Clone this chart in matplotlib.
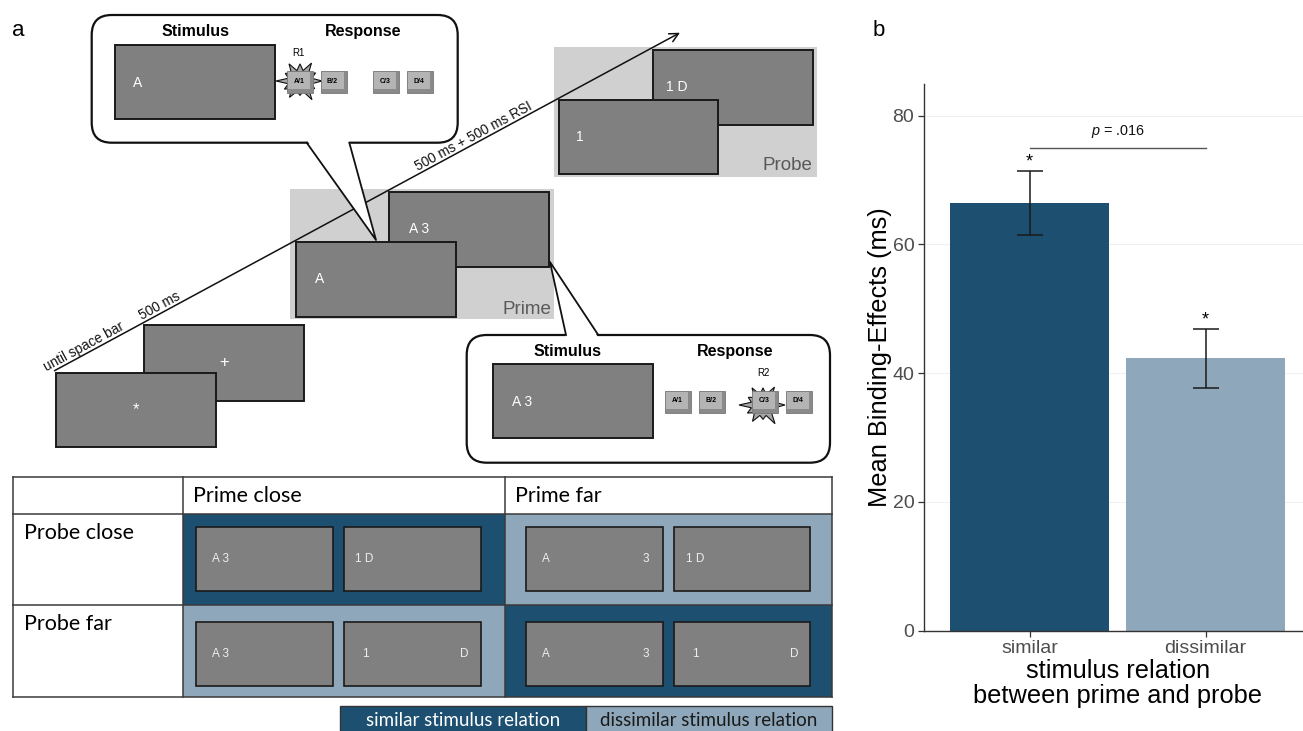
import numpy as np
import matplotlib
matplotlib.use('Agg')
import matplotlib.pyplot as plt
from matplotlib.patches import Rectangle, FancyBboxPatch, Polygon

plt.rcParams['font.family'] = ['Liberation Sans', 'DejaVu Sans']
plt.rcParams['mathtext.fontset'] = 'custom'
plt.rcParams['mathtext.it'] = 'Liberation Sans:italic'
plt.rcParams['mathtext.rm'] = 'Liberation Sans'

# ---- panel b data ----
relations = ['similar', 'dissimilar']
binding_means = [66.4, 42.3]
binding_errs = [5.0, 4.6]
p_value = '.016'
y_ticks = [0, 20, 40, 60, 80]

# ---- panel a texts ----
key_labels = ['A/1', 'B/2', 'C/3', 'D/4']
timeline_labels = ['until space bar', '500 ms', '500 ms + 500 ms RSI']
prime_labels = ['Prime close', 'Prime far']
probe_labels = ['Probe close', 'Probe far']
legend_labels = ['similar stimulus relation', 'dissimilar stimulus relation']
# which relation each prime/probe cell shows (rows = probe, cols = prime)
cell_relation = [['similar', 'dissimilar'],
                 ['dissimilar', 'similar']]

DARK = '#1d4f71'
LIGHT = '#8ea7ba'
rel_color = {'similar': DARK, 'dissimilar': LIGHT}
SCREEN = '#808080'
EDGE = '#1a1a1a'
TABLE_FONT = ['Lato', 'DejaVu Sans']

fig = plt.figure(figsize=(13.03, 7.31), dpi=100)
ax = fig.add_axes([0, 0, 1, 1])
ax.set_xlim(0, 1303)
ax.set_ylim(731, 0)
ax.axis('off')


def screen(x0, y0, x1, y1, z=3, lw=1.4):
    ax.add_patch(Rectangle((x0, y0), x1 - x0, y1 - y0, fc=SCREEN, ec=EDGE, lw=lw, zorder=z))


def stext(x, y, s, size=10, z=4, ha='left', **kw):
    ax.text(x, y, s, color='white', fontsize=size, ha=ha, va='center', zorder=z, **kw)


def key(x0, y0, label, z=7):
    w, h = 26, 22
    ax.add_patch(Rectangle((x0, y0), w, h, fc='#8a8a8a', ec='#777777', lw=0.6, zorder=z))
    ax.add_patch(Rectangle((x0 + 1.2, y0 + 1.2), w - 4, h - 4.5, fc='#b4b4b4', ec='none', zorder=z))
    ax.text(x0 + w / 2 - 1, y0 + h / 2 - 0.5, label, fontsize=5, fontweight='bold',
            ha='center', va='center', zorder=z + 1)


def burst(cx, cy, z=6):
    r_out = [22, 17, 24, 16, 21, 18, 24, 17, 22, 19, 23, 18]
    n = len(r_out)
    pts = []
    for i, r in enumerate(r_out):
        a = 2 * np.pi * i / n
        pts.append((cx + r * np.cos(a), cy + 0.9 * r * np.sin(a)))
        a2 = a + np.pi / n
        pts.append((cx + 12 * np.cos(a2), cy + 0.9 * 12 * np.sin(a2)))
    ax.add_patch(Polygon(pts, closed=True, fc='#a6a6a6', ec='#111111', lw=0.8, zorder=z))


def callout(x0, y0, x1, y1, bx0, bx1, by, inner, tip, z=5):
    ax.add_patch(FancyBboxPatch((x0, y0), x1 - x0, y1 - y0,
                                boxstyle='round,pad=0,rounding_size=20',
                                fc='white', ec='#111111', lw=1.6, zorder=z))
    ax.add_patch(Polygon([(bx0, inner), (bx1, inner), tip], closed=True,
                         fc='white', ec='none', zorder=z + 0.1))
    ax.plot([bx0, tip[0], bx1], [by, tip[1], by], color='#111111', lw=1.3, zorder=z + 0.2)


# ---- timeline ----
x_start, y_start = 54.5, 370.7
x_end, y_end = 680, 32.7
ax.annotate('', xy=(x_end, y_end), xytext=(x_start, y_start),
            arrowprops=dict(arrowstyle='->', color='#111111', lw=1.1, shrinkA=0, shrinkB=0,
                            mutation_scale=16), zorder=2)
slope = (y_end - y_start) / (x_end - x_start)
ang = np.degrees(np.arctan(-slope))
nrm = np.array([np.sin(np.radians(ang)), np.cos(np.radians(ang))])
for lab, cx in zip(timeline_labels, [87, 163, 477]):
    ly = y_start + slope * (cx - x_start)
    ax.text(cx - 3 * nrm[0], ly - 3 * nrm[1], lab, fontsize=9.8, rotation=ang,
            rotation_mode='anchor', ha='center', va='baseline', color='#111111', zorder=2)

# fixation screens
screen(144, 325, 304, 401)
screen(55.5, 372.7, 215.5, 446.7, z=3.5)
stext(224, 362.7, '+', size=12, ha='center', z=4)
stext(135.8, 410, '*', size=12, ha='center', z=4)

# prime
ax.add_patch(Rectangle((289.7, 189.3), 264, 130, fc='#d0d0d0', ec='none', zorder=1))
screen(389.2, 192.3, 548.7, 266.7)
screen(296, 242.3, 455.8, 316.7, z=3.5)
stext(408.8, 229.3, 'A 3', z=4)
stext(315, 279.3, 'A', z=4)
ax.text(551, 309, 'Prime', fontsize=13.5, color='#595959', ha='right', va='center', zorder=4)

# probe
ax.add_patch(Rectangle((554, 47.3), 262.7, 129.4, fc='#d0d0d0', ec='none', zorder=1))
screen(653.3, 50, 812.7, 125)
screen(559.3, 100, 718.3, 174.3, z=3.5)
stext(666, 87.3, '1 D', z=4)
stext(576, 136.7, '1', z=4)
ax.text(812, 166, 'Probe', fontsize=13.5, color='#595959', ha='right', va='center', zorder=4)

# top callout (prime response R1)
callout(91.7, 15, 457.7, 142.7, 306.7, 349.3, 142.7, 140, (376, 240))
ax.text(196, 31.7, 'Stimulus', fontsize=11.5, fontweight='bold', ha='center', va='center', zorder=7)
ax.text(363, 31.7, 'Response', fontsize=11.5, fontweight='bold', ha='center', va='center', zorder=7)
screen(115, 45, 275, 119.3, z=6)
stext(133.3, 82.7, 'A', z=7)
ax.text(298.3, 53.3, 'R1', fontsize=7, ha='center', va='center', zorder=7)
burst(300, 81)
for lab, kx in zip(key_labels, [287, 320.5, 373, 407]):
    key(kx, 70.7, lab)

# bottom callout (prime response R2)
callout(466.7, 335, 830, 462.7, 566, 598.3, 335, 337.5, (550, 262))
ax.text(568, 351.7, 'Stimulus', fontsize=11.5, fontweight='bold', ha='center', va='center', zorder=7)
ax.text(735, 351.7, 'Response', fontsize=11.5, fontweight='bold', ha='center', va='center', zorder=7)
screen(493, 364, 652.7, 438, z=6)
stext(511.7, 401.7, 'A 3', z=7)
ax.text(763.3, 373.3, 'R2', fontsize=7, ha='center', va='center', zorder=7)
burst(763, 405)
for lab, kx in zip(key_labels, [665, 699, 752, 786]):
    key(kx, 390.5, lab, z=7 if lab != 'C/3' else 7.5)

# ---- table of conditions ----
tx = [13.3, 182.7, 505, 831.7]
ty = [477.3, 514, 605, 696.7]
for r in range(2):
    for c in range(2):
        ax.add_patch(Rectangle((tx[c + 1], ty[r + 1]), tx[c + 2] - tx[c + 1], ty[r + 2] - ty[r + 1],
                               fc=rel_color[cell_relation[r][c]], ec='none', zorder=1))
for yy in ty:
    ax.plot([tx[0], tx[-1]], [yy, yy], color='#3a3a3a', lw=1.1, zorder=2)
for xx in tx:
    ax.plot([xx, xx], [ty[0], ty[-1]], color='#3a3a3a', lw=1.1, zorder=2)
for lab, c in zip(prime_labels, range(2)):
    ax.text(tx[c + 1] + 10, 496.5, lab, fontsize=15.5, family=TABLE_FONT, ha='left', va='center', zorder=3)
for lab, r in zip(probe_labels, range(2)):
    ax.text(24, ty[r + 1] + 19, lab, fontsize=15.5, family=TABLE_FONT, ha='left', va='center', zorder=3)

col_screens = [(196, 332.7), (344.3, 481), (526, 662.7), (674, 810)]
row_screens = [(527.3, 591), (621.7, 685.7)]
for (y0, y1) in row_screens:
    for (x0, x1) in col_screens:
        screen(x0, y0, x1, y1, z=3, lw=1.2)
# screen texts: (text, x) per row
cell_texts = [
    [('A 3', 212.3), ('1 D', 355), ('A', 542.3), ('3', 642.7), ('1 D', 685.7)],
    [('A 3', 212.3), ('1', 362.3), ('D', 460), ('A', 542.3), ('3', 642.7), ('1', 692.3), ('D', 790)],
]
for (y0, y1), texts in zip(row_screens, cell_texts):
    for s, xx in texts:
        ax.text(xx, (y0 + y1) / 2, s, color='#eeeeee', fontsize=8.5, ha='left', va='center', zorder=4)

# legend strip
lx = [340, 586, 831.7]
for i, lab in enumerate(legend_labels):
    ax.add_patch(Rectangle((lx[i], 706), lx[i + 1] - lx[i], 40, fc=[DARK, LIGHT][i],
                           ec='#333333', lw=1, zorder=2))
    ax.text((lx[i] + lx[i + 1]) / 2, 721, lab, fontsize=13.5, family=TABLE_FONT,
            color=['white', '#1a1a1a'][i], ha='center', va='center', zorder=3)

fig.text(18 / 1303, 1 - 31 / 731, 'a', fontsize=16, ha='center', va='center')
fig.text(879 / 1303, 1 - 31 / 731, 'b', fontsize=16, ha='center', va='center')

# ---- panel b: bar chart ----
bx = fig.add_axes([924 / 1303, (731 - 630.5) / 731, 387.2 / 1303, 546.5 / 731])
xpos = np.arange(1, len(relations) + 1)
bx.bar(xpos, binding_means, width=0.9, color=[DARK, LIGHT], zorder=2)
bx.errorbar(xpos, binding_means, yerr=binding_errs, fmt='none', ecolor='#1a1a1a',
            elinewidth=1.1, capsize=9.6, capthick=1.1, zorder=3)
for xp, m, e in zip(xpos, binding_means, binding_errs):
    bx.text(xp, m + e, '*', fontsize=13, ha='center', va='bottom', zorder=4)
bx.plot([1, 2], [74.9, 74.9], color='#555555', lw=1.0, zorder=3)
bx.text(1.5, 76.2, r'$p$ = ' + p_value, fontsize=10.4, ha='center', va='bottom', color='#111111')
bx.set_xlim(0.4, 2.6)
bx.set_ylim(0, 84.9)
bx.set_yticks(y_ticks)
bx.set_xticks(xpos)
bx.set_xticklabels(relations)
bx.tick_params(axis='both', labelsize=14, labelcolor='#4d4d4d', color='#333333',
               length=4, width=0.9, pad=3)
bx.yaxis.grid(True, color='#f0f0f0', lw=0.8, zorder=0)
bx.set_axisbelow(True)
for s in ['top', 'right']:
    bx.spines[s].set_visible(False)
for s in ['left', 'bottom']:
    bx.spines[s].set_color('#333333')
    bx.spines[s].set_linewidth(1.0)
bx.set_ylabel('Mean Binding-Effects (ms)', fontsize=18.3, labelpad=0)
bx.set_xlabel('stimulus relation\nbetween prime and probe', fontsize=18.3, labelpad=1, linespacing=1.05)

fig.savefig('out.png', dpi=100)
